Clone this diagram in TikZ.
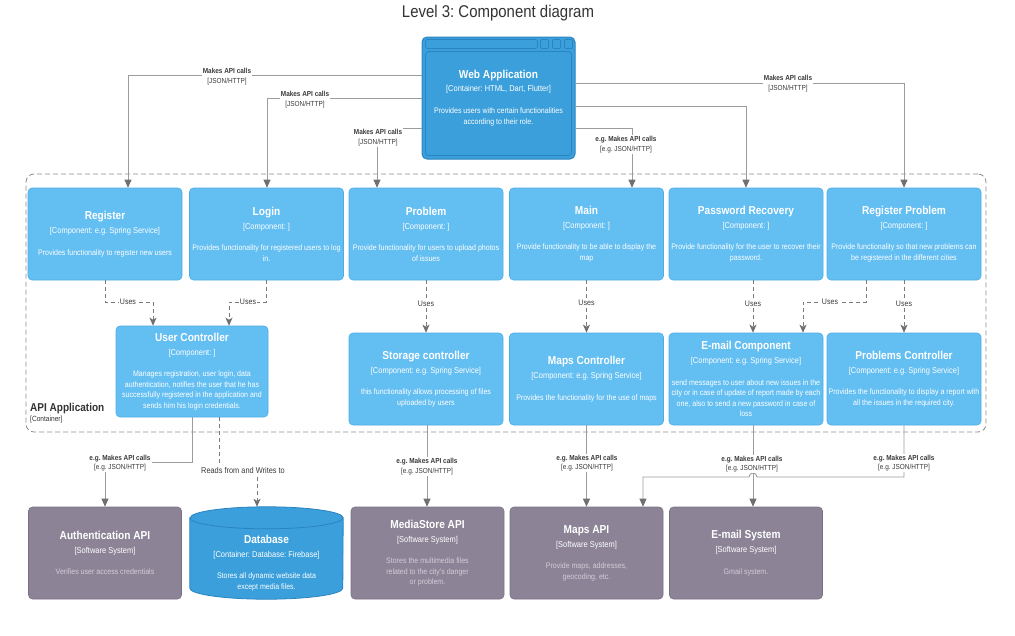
\documentclass[tikz,border=0pt]{standalone}
\usepackage{fontspec}
\setmainfont{Liberation Sans}[FakeStretch=0.88]
\usetikzlibrary{arrows.meta,calc}
\frenchspacing
\definecolor{compfill}{HTML}{63BEF2}
\definecolor{compedge}{HTML}{4AAEE6}
\definecolor{contfill}{HTML}{3A9FDB}
\definecolor{contedge}{HTML}{2A84C2}
\definecolor{extfill}{HTML}{8C8496}
\definecolor{extedge}{HTML}{7A7086}
\definecolor{extdesc}{HTML}{D2CCD8}
\definecolor{linegray}{HTML}{9C9C9C}
\definecolor{tipgray}{HTML}{707070}
\definecolor{dashgray}{HTML}{7A7A7A}
\definecolor{labgray}{HTML}{3A3A3A}
\definecolor{bndgray}{HTML}{8C8C8C}
\definecolor{titlegray}{HTML}{333333}
\newcommand\ttlf{\fontsize{11.5}{13}\selectfont\bfseries}
\newcommand\tchf{\fontsize{8.5}{10}\selectfont}
\newcommand\dscf{\fontsize{8}{10.5}\selectfont}
\newcommand\labf{\fontsize{7.3}{9.3}\selectfont}
\newcommand\boxtxt[3]{{\ttlf\color{white}#1}\\[3.5pt]{\tchf\color{white}#2}\\[11pt]#3}
\newcommand\apilab[2]{{\bfseries #1}\\{}#2}
\begin{document}
\begin{tikzpicture}[x=1pt,y=-1pt,
 comp/.style={rectangle,rounded corners=4pt,fill=compfill,draw=compedge,line width=0.6pt,minimum width=154pt,minimum height=92pt,inner sep=0pt,align=center,text=white,font=\dscf},
 ext/.style={comp,fill=extfill,draw=extedge,text=extdesc,minimum width=153pt},
 api/.style={draw=linegray,line width=0.9pt,-{Triangle[length=8pt,width=7pt,color=tipgray]}},
 uses/.style={draw=dashgray,line width=0.9pt,dash pattern=on 4pt off 3pt,-{Stealth[length=8pt,width=7pt,inset=2pt,color=tipgray]}},
 lab/.style={fill=white,inner sep=1pt,align=center,text=labgray,font=\labf},
 useslab/.style={fill=white,inner sep=1pt,text=labgray,font=\fontsize{8}{9}\selectfont},
 ]
\useasboundingbox (0,0) rectangle (1015,635);

% title
\node[font=\fontsize{17}{20}\selectfont,text=titlegray] (ttl) at (498,13) {Level 3: Component diagram};

% boundary
\node[draw=bndgray,dash pattern=on 5pt off 3pt,rounded corners=8pt,minimum width=960pt,minimum height=258pt,line width=0.8pt] (bnd) at (506,303) {};
\node[anchor=base west,font=\fontsize{11.4}{13}\selectfont\bfseries,text=titlegray,inner sep=0pt] (bl) at (30,411) {API Application};
\node[anchor=base west,font=\fontsize{7.5}{9}\selectfont,text=titlegray,inner sep=0pt] (bl2) at (30,421) {[Container]};

% web application
\node[comp,fill=contfill,draw=contedge,line width=1pt,minimum width=153pt,minimum height=122pt,rounded corners=5pt] (web) at (498.5,98)
 {{\ttlf Web Application}\\[2.5pt]{\tchf [Container: HTML, Dart, Flutter]}\\[11.5pt]Provides users with certain functionalities\\according to their role.};
\draw[contedge,line width=0.7pt,rounded corners=2pt] ([shift={(4,3)}]web.north west) rectangle ([shift={(-38,12)}]web.north east);
\draw[contedge,line width=0.7pt,rounded corners=1pt] ([shift={(-35,3)}]web.north east) rectangle ([shift={(-27,12)}]web.north east);
\draw[contedge,line width=0.7pt,rounded corners=1pt] ([shift={(-23,3)}]web.north east) rectangle ([shift={(-15,12)}]web.north east);
\draw[contedge,line width=0.7pt,rounded corners=1pt] ([shift={(-11,3)}]web.north east) rectangle ([shift={(-3,12)}]web.north east);
\draw[contedge,line width=0.7pt,rounded corners=3pt] ([shift={(4,15)}]web.north west) rectangle ([shift={(-4,-4)}]web.south east);

% row 1 components
\node[comp] (reg) at (105,234) {\boxtxt{Register}{[Component: e.g. Spring Service]}{Provides functionality to register new users}};
\node[comp] (login) at (266.5,234) {\boxtxt{Login}{[Component: ]}{Provides functionality for registered users to log\\in.}};
\node[comp] (prob) at (426,234) {\boxtxt{Problem}{[Component: ]}{Provide functionality for users to upload photos\\of issues}};
\node[comp] (main) at (586.5,234) {\boxtxt{Main}{[Component: ]}{Provide functionality to be able to display the\\map}};
\node[comp] (pwd) at (746,234) {\boxtxt{Password Recovery}{[Component: ]}{Provide functionality for the user to recover their\\password.}};
\node[comp] (rprob) at (904,234) {\boxtxt{Register Problem}{[Component: ]}{Provide functionality so that new problems can\\be registered in the different cities}};

% row 2 components
\node[comp,minimum width=152pt,minimum height=91pt] (uc) at (192,371.5) {\boxtxt{User Controller}{[Component: ]}{Manages registration, user login, data\\authentication, notifies the user that he has\\successfully registered in the application and\\sends him his login credentials.}};
\node[comp] (stor) at (426,379) {\boxtxt{Storage controller}{[Component: e.g. Spring Service]}{this functionality allows processing of files\\uploaded by users}};
\node[comp] (mapc) at (586.5,379) {\boxtxt{Maps Controller}{[Component: e.g. Spring Service]}{Provides the functionality for the use of maps}};
\node[comp] (emc) at (746,379) {\boxtxt{E-mail Component}{[Component: e.g. Spring Service]}{send messages to user about new issues in the\\city or in case of update of report made by each\\one, also to send a new password in case of\\loss}};
\node[comp] (pc) at (904,379) {\boxtxt{Problems Controller}{[Component: e.g. Spring Service]}{Provides the functionality to display a report with\\all the issues in the required city.}};

% bottom row
\node[ext] (auth) at (105,553) {\boxtxt{Authentication API}{[Software System]}{Verifies user access credentials}};
\node[minimum width=153pt,minimum height=92pt,inner sep=0pt] (db) at (266.5,553) {};
\fill[contfill] ([shift={(0,11)}]db.north west) -- ([shift={(0,-11)}]db.south west) arc[start angle=180,end angle=360,x radius=76.5pt,y radius=11pt] -- ([shift={(0,11)}]db.north east) arc[start angle=0,end angle=180,x radius=76.5pt,y radius=11pt] -- cycle;
\draw[contedge,line width=0.8pt] ([shift={(0,11)}]db.north west) -- ([shift={(0,-11)}]db.south west) arc[start angle=180,end angle=360,x radius=76.5pt,y radius=11pt] -- ([shift={(0,11)}]db.north east) arc[start angle=0,end angle=180,x radius=76.5pt,y radius=11pt] -- cycle;
\draw[contedge,line width=0.8pt] ([shift={(0,11)}]db.north west) arc[start angle=180,end angle=360,x radius=76.5pt,y radius=11pt];
\node[align=center,text=white,font=\dscf,inner sep=0pt] (dbt) at ([shift={(0,10)}]db.center) {\boxtxt{Database}{[Container: Database: Firebase]}{Stores all dynamic website data\\except media files.}};
\node[ext] (media) at (427.5,553) {\boxtxt{MediaStore API}{[Software System]}{Stores the multimedia files\\related to the city's danger\\or problem.}};
\node[ext] (mapsapi) at (586.5,553) {\boxtxt{Maps API}{[Software System]}{Provide maps, addresses,\\geocoding, etc.}};
\node[ext] (emsys) at (746,553) {\boxtxt{E-mail System}{[Software System]}{Gmail system.}};

% connectors from web app
\draw[api] (web.west |- 0,75) -| (reg.north -| 128,0);
\draw[api] (web.west |- 0,98) -| (login.north -| 267,0);
\draw[api] (web.west |- 0,128) -| (prob.north -| 377,0);
\draw[api] (web.east |- 0,128) -| (main.north -| 632,0);
\draw[api] (web.east |- 0,106) -| (pwd.north -| 746,0);
\draw[api] (web.east |- 0,83) -| (rprob.north -| 904,0);
\node[lab] (l1) at (227,76.5) {\apilab{Makes API calls}{[JSON/HTTP]}};
\node[lab] (l2) at (305,99.5) {\apilab{Makes API calls}{[JSON/HTTP]}};
\node[lab] (l3) at (378,137.5) {\apilab{Makes API calls}{[JSON/HTTP]}};
\node[lab] (l4) at (626,144.5) {\apilab{e.g. Makes API calls}{[e.g. JSON/HTTP]}};
\node[lab] (l6) at (788,83.5) {\apilab{Makes API calls}{[JSON/HTTP]}};

% uses connectors
\draw[uses] (reg.south) -- (reg.south |- 0,302) -| (uc.north -| 153,0);
\draw[uses] (login.south) -- (login.south |- 0,302) -| (uc.north -| 229,0);
\draw[uses] (prob.south) -- (stor.north);
\draw[uses] (main.south) -- (mapc.north);
\draw[uses] (pwd.south -| 753,0) -- (emc.north -| 753,0);
\draw[uses] (rprob.south -| 866,0) -- (866,302) -| (emc.north -| 803,0);
\draw[uses] (rprob.south) -- (pc.north);
\node[useslab] (u1) at (128,302) {Uses};
\node[useslab] (u2) at (248,302) {Uses};
\node[useslab] (u3) at (426,304) {Uses};
\node[useslab] (u4) at (586.5,303) {Uses};
\node[useslab] (u5) at (753,304) {Uses};
\node[useslab] (u6) at (830,302) {Uses};
\node[useslab] (u7) at (904,304) {Uses};

% bottom connectors
\draw[api] (uc.south -| 192,0) |- (auth.north |- 0,462) -- (auth.north);
\draw[uses] (uc.south -| 219,0) |- (257,470) -- (db.north -| 257,0);
\draw[api] (stor.south -| 427,0) -- (media.north -| 427,0);
\draw[api] (mapc.south) -- (mapsapi.north);
\draw[api] (emc.south -| 753,0) -- (emsys.north -| 753,0);
\draw[api] (pc.south) -- (pc.south |- 0,477) -- (757,477) arc[start angle=0,end angle=180,radius=4pt] -- (643,477) -- (mapsapi.north -| 643,0);
\node[lab] (b1) at (120,463) {\apilab{e.g. Makes API calls}{[e.g. JSON/HTTP]}};
\node[useslab,font=\fontsize{8.4}{10}\selectfont] (b2) at (243,470) {Reads from and Writes to};
\node[lab] (b3) at (427,466.5) {\apilab{e.g. Makes API calls}{[e.g. JSON/HTTP]}};
\node[lab] (b4) at (587,463) {\apilab{e.g. Makes API calls}{[e.g. JSON/HTTP]}};
\node[lab] (b5) at (752,464) {\apilab{e.g. Makes API calls}{[e.g. JSON/HTTP]}};
\node[lab] (b6) at (904,463) {\apilab{e.g. Makes API calls}{[e.g. JSON/HTTP]}};
\end{tikzpicture}
\end{document}
